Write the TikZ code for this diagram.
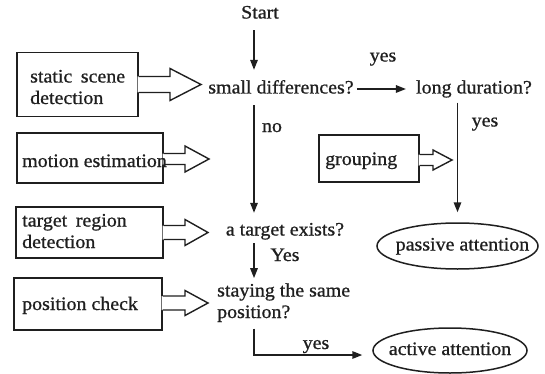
\documentclass[tikz,border=0pt]{standalone}
\usepackage{fontspec}
\setmainfont{Liberation Serif}[FakeStretch=1.05,FakeBold=0.8]
\usetikzlibrary{arrows.meta,calc,shapes.geometric}
\newcommand{\harrow}[6]{%
  \fill[white] let \p1=($(#1.east)+(0,#6)$) in
    (\x1-1pt,\y1+#3pt) -- (#2pt-#5pt,\y1+#3pt) -- (#2pt-#5pt,\y1+#4pt) -- (#2pt,\y1)
    -- (#2pt-#5pt,\y1-#4pt) -- (#2pt-#5pt,\y1-#3pt) -- (\x1-1pt,\y1-#3pt) -- cycle;
  \draw[ink, line join=miter] let \p1=($(#1.east)+(0,#6)$) in
    (\x1,\y1+#3pt) -- (#2pt-#5pt,\y1+#3pt) -- (#2pt-#5pt,\y1+#4pt) -- (#2pt,\y1)
    -- (#2pt-#5pt,\y1-#4pt) -- (#2pt-#5pt,\y1-#3pt) -- (\x1,\y1-#3pt);
}
\begin{document}
\begin{tikzpicture}[x=1pt,y=-1pt,
  ink/.style={draw=black!88, line width=1.4pt},
  txt/.style={inner sep=0pt, text height=13pt, text depth=4pt, font=\fontsize{19}{22}\selectfont, text=black!88},
  txtm/.style={inner sep=0pt, align=left, font=\fontsize{19}{21.5}\selectfont, text=black!88},
  boxn/.style={draw=black!88, line width=1.4pt, fill=white, inner sep=0pt},
  oval/.style={ellipse, draw=black!88, line width=1.5pt, inner sep=0pt, text height=13pt, text depth=4pt, font=\fontsize{19}{22}\selectfont, text=black!88},
  flow/.style={draw=black!88, line width=1.6pt, -{Triangle[length=10pt,width=7.5pt]}},
]
\useasboundingbox[fill=white] (0,0) rectangle (545,374);

% side boxes
\node[boxn, minimum width=121, minimum height=64] (ssd) at (77.5,84.5) {};
\node[boxn, minimum width=146, minimum height=50] (me) at (90,158) {};
\node[boxn, minimum width=147, minimum height=51] (trd) at (89.5,232.5) {};
\node[boxn, minimum width=148, minimum height=52] (pc) at (88,304) {};
\node[boxn, minimum width=100, minimum height=47] (grp) at (369,158.5) {};

% hollow arrows: box, tip x, half shaft, half head, head length, dy
\harrow{ssd}{201}{8}{16}{31}{0}
\harrow{me}{209}{5.5}{13}{24}{1}
\harrow{trd}{208}{7}{13}{23}{0}
\harrow{pc}{208}{7}{12.5}{23}{-1}
\harrow{grp}{452}{5.5}{10}{19}{1.5}

% box texts
\node[txtm, anchor=base west] (ssdt) at (30,104) {static\hspace{0.45em}scene\\detection};
\node[txt, anchor=west] (met) at (22,162.5) {motion estimation};
\node[txtm, anchor=base west] (trdt) at (22,248) {target\hspace{0.45em}region\\detection};
\node[txt, anchor=west] (pct) at (22,305.5) {position check};
\node[txt, anchor=west] (grpt) at (325,160.5) {grouping};

% flow texts
\node[txt] (start) at (260,14) {Start};
\node[txt] (sd) at (281,89) {small differences?};
\node[txt] (ld) at (474,89) {long duration?};
\node[txt] (te) at (285,231) {a target exists?};
\node[txtm, anchor=base west] (st) at (217,318) {staying the same\\position?};
\node[oval, minimum width=161, minimum height=46] (pa) at (457.5,246) {\makebox[0pt]{\hspace{10pt}passive attention}};
\node[oval, minimum width=154, minimum height=45] (aa) at (450,350.5) {\makebox[0pt]{active attention}};

% labels
\node[txt] (y1) at (383,57) {yes};
\node[txt] (no) at (272,127.5) {no};
\node[txt] (y2) at (485,122) {yes};
\node[txt] (y3) at (285,256.5) {Yes};
\node[txt] (y4) at (316,344.5) {yes};

% connectors
\coordinate (spine) at (254,0);
\draw[flow, shorten <=7.5pt, shorten >=10.5pt] (start.south -| spine) -- (sd.north -| spine);
\draw[flow, shorten <=7.5pt, shorten >=9.5pt] (sd.south -| spine) -- (te.north -| spine);
\draw[flow, shorten <=3.5pt] (te.south -| spine) -- ($(st.north -| spine)+(0,-5)$);
\draw[flow, shorten <=6.5pt, shorten >=10pt] (st.south -| spine) |- ($(aa.west)+(0,4.5)$);
\draw[flow, shorten <=3pt, shorten >=10pt] (sd.east) -- (ld.west);
\draw[flow, shorten <=5pt, shorten >=10pt] (pa |- ld.south) -- (pa.north);
\end{tikzpicture}
\end{document}
